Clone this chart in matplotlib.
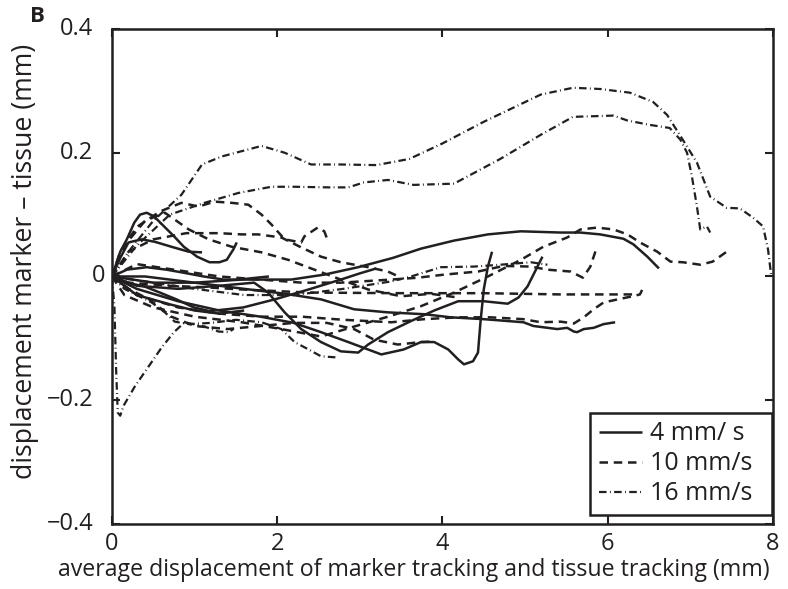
import matplotlib
matplotlib.use('Agg')
import matplotlib.pyplot as plt

plt.rcParams['font.family'] = ['Open Sans', 'DejaVu Sans']

INK = '#231f20'

# 4 mm/s runs: (x, y) per trace, mm
speed_4 = [
    ([0, 0.5, 1.0, 1.57, 2.17, 2.57, 2.98, 3.4, 3.74, 4.14, 4.55, 4.95, 5.43, 5.67, 5.91, 6.19, 6.31, 6.48, 6.62],
     [0, -0.01, -0.01, -0.005, -0.005, 0.003, 0.015, 0.03, 0.045, 0.058, 0.068, 0.073, 0.071, 0.071, 0.068, 0.061, 0.052, 0.032, 0.013]),
    ([0, 0.3, 0.8, 1.3, 1.8, 2.2, 2.53, 2.86, 3.26, 3.53, 3.74, 3.9, 4.07, 4.19, 4.26, 4.37, 4.43, 4.46, 4.5, 4.55, 4.6],
     [0, -0.02, -0.04, -0.055, -0.065, -0.075, -0.09, -0.106, -0.126, -0.118, -0.106, -0.106, -0.118, -0.134, -0.142, -0.137, -0.123, -0.074, -0.021, 0.016, 0.04]),
    ([0, 0.3, 0.8, 1.3, 1.72, 1.89, 2.09, 2.29, 2.53, 2.77, 2.98, 3.1, 3.34, 3.62, 3.9, 4.19, 4.5, 4.79, 4.92, 5.03, 5.15, 5.21],
     [0, -0.015, -0.02, -0.015, -0.01, -0.026, -0.058, -0.085, -0.106, -0.121, -0.123, -0.11, -0.09, -0.072, -0.055, -0.04, -0.04, -0.044, -0.034, -0.016, 0.016, 0.032]),
    ([0, 0.4, 1.0, 1.6, 2.1, 2.53, 2.93, 3.34, 3.78, 4.1, 4.5, 4.98, 5.1, 5.39, 5.51, 5.59, 5.63, 5.71, 5.83, 5.95, 6.09],
     [0, 0.0, -0.01, -0.02, -0.028, -0.037, -0.053, -0.058, -0.061, -0.066, -0.069, -0.074, -0.08, -0.085, -0.083, -0.089, -0.09, -0.085, -0.083, -0.077, -0.074]),
    ([0, 0.05, 0.1, 0.18, 0.27, 0.34, 0.42, 0.51, 0.63, 0.75, 0.87, 1.03, 1.18, 1.3, 1.39, 1.47, 1.51],
     [0, 0.02, 0.04, 0.06, 0.087, 0.1, 0.103, 0.097, 0.081, 0.065, 0.048, 0.032, 0.023, 0.023, 0.027, 0.044, 0.055]),
    ([0, 0.1, 0.2, 0.36, 0.52, 0.72, 0.93, 1.09],
     [0, 0.03, 0.055, 0.06, 0.056, 0.048, 0.04, 0.039]),
    ([0, 0.18, 0.39, 0.58, 0.78, 0.99, 1.18, 1.39, 1.59, 1.97, 2.38, 2.77, 3.0, 3.2],
     [0, -0.01, -0.016, -0.026, -0.037, -0.05, -0.056, -0.053, -0.05, -0.037, -0.021, -0.005, 0.005, 0.013]),
    ([0, 0.18, 0.42, 0.66, 0.87, 1.11, 1.35, 1.54, 1.75, 1.9],
     [0, 0.011, 0.015, 0.011, 0.006, 0.0, -0.005, -0.005, -0.002, 0.0]),
    ([0, 0.3, 0.7, 1.0, 1.3, 1.6],
     [0, -0.03, -0.045, -0.055, -0.06, -0.055]),
]

# 10 mm/s runs
speed_10 = [
    ([0, 0.15, 0.5, 1.0, 1.57, 2.05, 2.53, 2.93, 3.34, 3.74, 4.14, 4.55, 4.95, 5.22, 5.51, 5.67, 5.87, 6.07, 6.24, 6.39, 6.6, 6.76, 6.91, 7.12, 7.27, 7.44],
     [0, -0.03, -0.05, -0.065, -0.074, -0.085, -0.097, -0.081, -0.065, -0.048, -0.026, 0.0, 0.027, 0.048, 0.063, 0.076, 0.079, 0.076, 0.068, 0.055, 0.04, 0.024, 0.023, 0.019, 0.024, 0.04]),
    ([0, 0.2, 0.7, 1.2, 1.57, 2.38, 3.5, 4.5, 5.43, 6.3],
     [0, -0.01, -0.015, -0.018, -0.021, -0.026, -0.027, -0.027, -0.029, -0.029]),
    ([0, 0.3, 0.8, 1.3, 1.8, 2.3, 2.77, 3.38, 3.7, 4.02, 4.43, 4.74, 5.07, 5.27, 5.55, 5.7, 5.79, 5.87],
     [0, 0.02, 0.01, 0.0, -0.005, -0.01, -0.01, -0.005, -0.002, 0.003, 0.008, 0.017, 0.016, 0.011, 0.008, -0.002, 0.016, 0.048]),
    ([0, 0.3, 0.8, 1.3, 1.8, 2.3, 2.8, 3.38, 3.78, 4.19, 4.58, 4.98, 5.19, 5.43, 5.59, 5.71, 5.83, 5.95, 6.12, 6.3, 6.39, 6.43],
     [0, -0.03, -0.05, -0.06, -0.065, -0.065, -0.07, -0.074, -0.069, -0.066, -0.066, -0.069, -0.074, -0.073, -0.076, -0.066, -0.053, -0.042, -0.037, -0.032, -0.029, -0.018]),
    ([0, 0.2, 0.45, 0.72, 1.0, 1.4, 1.8, 2.2, 2.6, 2.93, 3.17, 3.46, 3.74, 3.9],
     [0, -0.02, -0.037, -0.065, -0.08, -0.085, -0.08, -0.075, -0.075, -0.085, -0.102, -0.11, -0.106, -0.105]),
    ([0, 0.1, 0.3, 0.58, 0.84, 1.05, 1.24, 1.45, 1.65, 1.81, 1.93, 2.09, 2.29, 2.33, 2.49, 2.57, 2.62],
     [0, 0.04, 0.08, 0.105, 0.119, 0.113, 0.121, 0.119, 0.116, 0.1, 0.084, 0.06, 0.055, 0.065, 0.079, 0.073, 0.055]),
    ([0, 0.15, 0.4, 0.64, 0.93, 1.17, 1.45, 1.81, 2.13, 2.45, 2.77, 3.1, 3.5, 3.86, 4.19],
     [0, 0.05, 0.09, 0.103, 0.076, 0.06, 0.048, 0.039, 0.027, 0.011, -0.005, -0.021, -0.032, -0.028, -0.034]),
    ([0, 0.2, 0.5, 0.9, 1.3, 1.57, 1.77, 2.05, 2.29, 2.53, 2.77, 3.1, 3.34, 3.5],
     [0, 0.04, 0.06, 0.07, 0.07, 0.068, 0.068, 0.063, 0.047, 0.032, 0.023, 0.015, 0.008, -0.002]),
]

# 16 mm/s runs
speed_16 = [
    ([0, 0.2, 0.5, 0.84, 1.09, 1.33, 1.81, 2.09, 2.41, 2.77, 3.2, 3.6, 4.0, 4.5, 5.19, 5.58, 5.91, 6.27, 6.55, 6.72, 6.96, 7.08, 7.24, 7.44, 7.6, 7.76, 7.88, 7.94, 7.98],
     [0, 0.04, 0.09, 0.132, 0.181, 0.194, 0.211, 0.2, 0.181, 0.181, 0.18, 0.19, 0.215, 0.25, 0.294, 0.305, 0.303, 0.297, 0.282, 0.261, 0.21, 0.184, 0.129, 0.111, 0.11, 0.095, 0.081, 0.044, 0.0]),
    ([0, 0.3, 0.7, 1.12, 1.53, 1.93, 2.21, 2.62, 2.86, 3.05, 3.34, 3.65, 4.14, 4.7, 5.19, 5.58, 6.07, 6.24, 6.51, 6.75, 6.88, 6.96, 7.02, 7.08, 7.12, 7.2, 7.24],
     [0, 0.05, 0.1, 0.119, 0.135, 0.145, 0.145, 0.144, 0.144, 0.152, 0.156, 0.148, 0.15, 0.19, 0.229, 0.258, 0.26, 0.252, 0.245, 0.24, 0.221, 0.2, 0.161, 0.113, 0.076, 0.081, 0.071]),
    ([0, 0.03, 0.05, 0.07, 0.1, 0.14, 0.28, 0.42, 0.6, 0.75, 0.88, 1.12, 1.29, 1.41, 1.47],
     [0, -0.05, -0.15, -0.22, -0.225, -0.209, -0.177, -0.15, -0.115, -0.09, -0.074, -0.081, -0.089, -0.09, -0.085]),
    ([0, 0.15, 0.3, 0.48, 0.64, 0.76, 0.93, 1.2, 1.5, 1.81, 2.05, 2.21, 2.38, 2.53, 2.74],
     [0, -0.02, -0.03, -0.042, -0.058, -0.073, -0.077, -0.075, -0.07, -0.074, -0.085, -0.106, -0.118, -0.129, -0.131]),
    ([0, 0.5, 1.0, 1.6, 2.2, 2.8, 3.38, 3.62, 3.98, 4.38, 4.7, 5.07, 5.27],
     [0, -0.01, -0.02, -0.03, -0.03, -0.02, -0.008, 0.0, 0.015, 0.016, 0.019, 0.023, 0.019]),
]

x_ticks = [0, 2, 4, 6, 8]
y_ticks = [-0.4, -0.2, 0, 0.2, 0.4]
y_tick_labels = ['\u22120.4', '\u22120.2', '0', '0.2', '0.4']

styles = {
    '4 mm/ s': dict(linestyle='-', lw=1.8),
    '10 mm/s': dict(linestyle=(0, (3.4, 2.3)), lw=1.8),
    '16 mm/s': dict(linestyle=(0, (3.4, 1.5, 0.4, 1.5)), lw=1.6),
}

fig = plt.figure(figsize=(7.88, 5.89), dpi=100)
ax = fig.add_axes([0.1421, 0.1104, 0.8388, 0.8404])

for label, runs in zip(styles, [speed_4, speed_10, speed_16]):
    for i, (xs, ys) in enumerate(runs):
        ax.plot(xs, ys, color=INK, label=label if i == 0 else None,
                solid_capstyle='butt', dash_capstyle='butt', **styles[label])

ax.set_xlim(0, 8)
ax.set_ylim(-0.4, 0.4)
ax.set_xticks(x_ticks)
ax.set_xticklabels([str(t) for t in x_ticks])
ax.set_yticks(y_ticks)
ax.set_yticklabels([])
ax.tick_params(direction='in', top=True, right=True, length=6, width=1.5,
               labelsize=17, colors=INK, pad=6)
for sp in ax.spines.values():
    sp.set_linewidth(1.8)
    sp.set_color(INK)

# y tick labels placed by hand: the "0" sits closer to the axis than the others
ytrans = ax.get_yaxis_transform()
for val, txt in zip(y_ticks, y_tick_labels):
    off = -0.01 if txt == '0' else -0.028
    ax.text(off, val, txt, transform=ytrans, ha='right', va='center',
            fontsize=17, color=INK)

ax.set_xlabel('average displacement of marker tracking and tissue tracking (mm)',
              fontsize=16.7, color=INK, ha='right', va='center')
ax.xaxis.set_label_coords(0.9955, -0.093)
ax.set_ylabel('displacement marker \u2013 tissue (mm)', fontsize=19.2, color=INK,
              va='center')
ax.yaxis.set_label_coords(-0.1316, 0.53)

leg = ax.legend(loc='lower left', bbox_to_anchor=(0.723, 0.018, 0.275, 0.226),
                mode='expand', fontsize=18, frameon=True, fancybox=False,
                framealpha=1, edgecolor=INK, handlelength=1.75, handletextpad=0.3,
                borderpad=0.35, labelspacing=0.2, borderaxespad=0)
leg.get_frame().set_linewidth(1.8)
for t in leg.get_texts():
    t.set_color(INK)

fig.text(0.048, 0.972, 'B', fontsize=16, fontweight='bold', color=INK,
         ha='center', va='center')

fig.savefig('out.png', dpi=100)
